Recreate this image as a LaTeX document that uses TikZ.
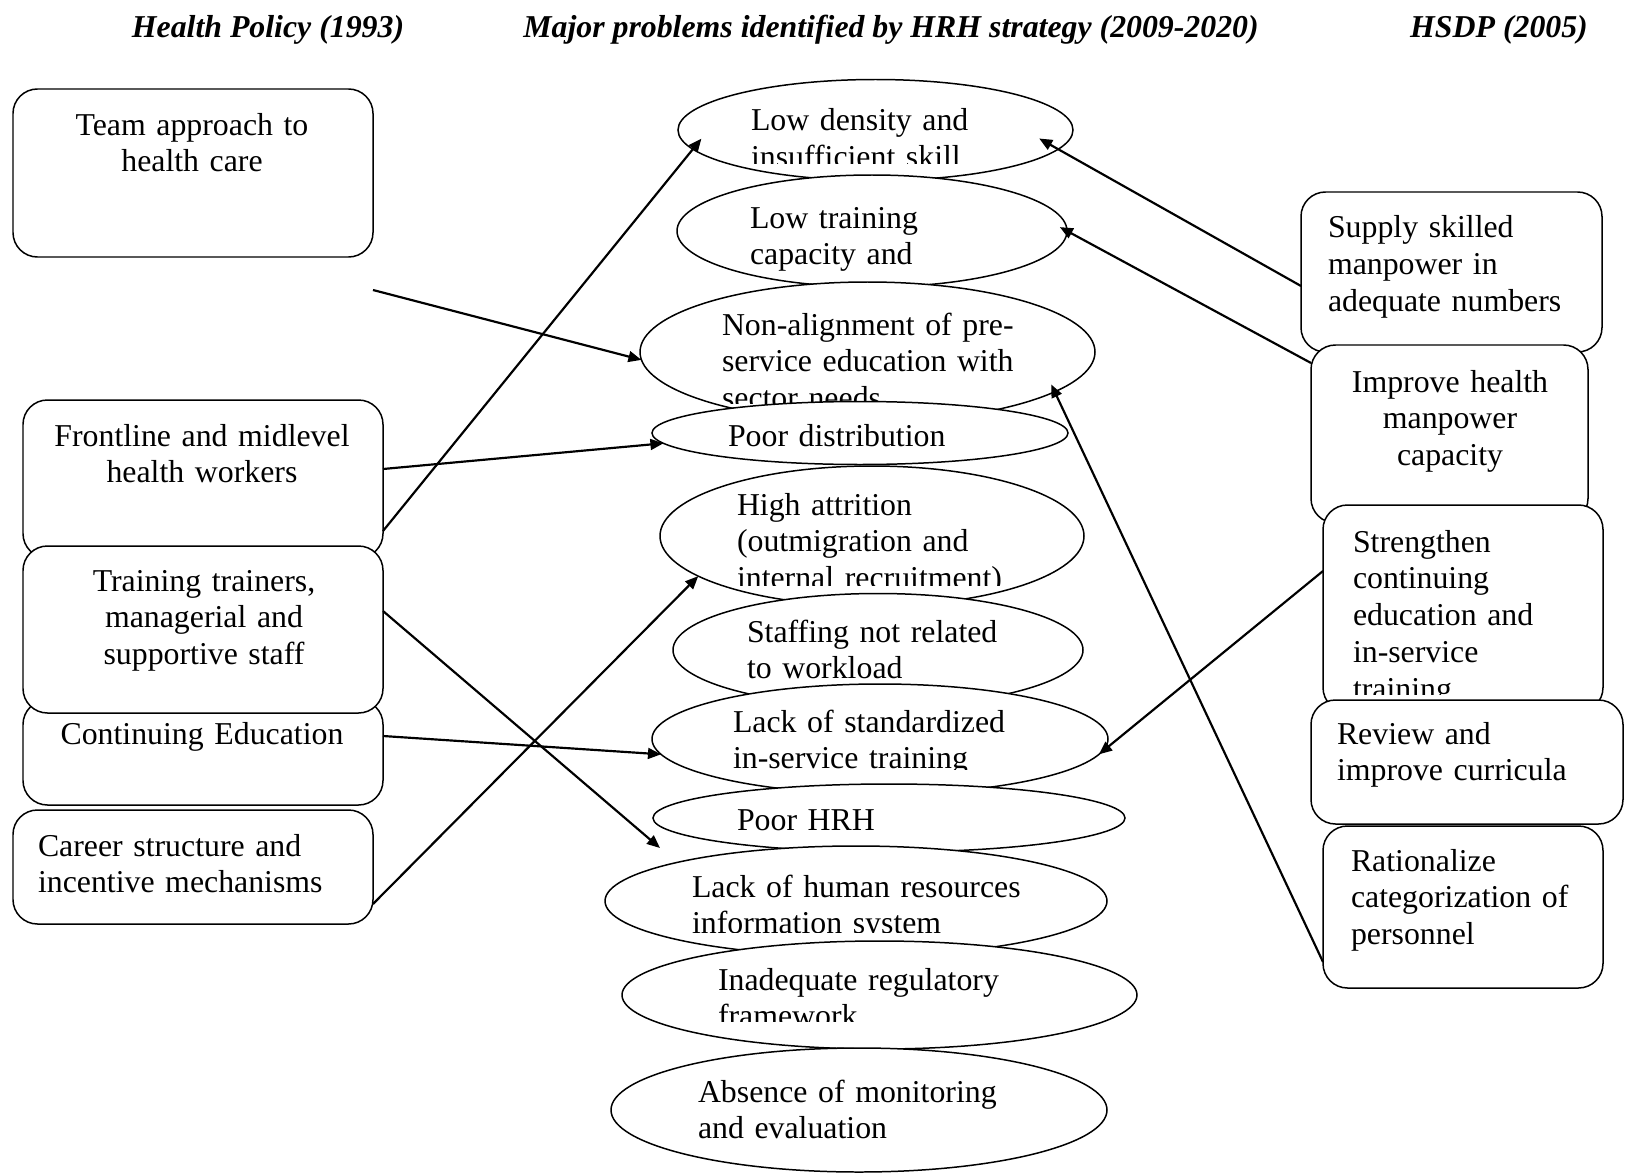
\documentclass[tikz,border=0pt]{standalone}
\usepackage{fontspec}
\setmainfont{Liberation Serif}
\usetikzlibrary{shapes.geometric, arrows.meta, calc}

\newcommand{\pxu}{0.3677pt}
% text of a box, cut off at the bottom like the original text boxes
\newcommand{\clippedtext}[5]{%
  \begin{scope}
    \clip (#2-10,#3-40) rectangle (#2+420,#4);
    \node[txt] (#1) at (#2,#3) {#5};
  \end{scope}}

\begin{document}
\begin{tikzpicture}[x=\pxu, y=-\pxu,
  every node/.style={font=\fontsize{11.7}{13.6}\selectfont, inner sep=0pt, outer sep=0pt},
  head/.style={anchor=base, font=\fontsize{11.7}{13.6}\selectfont\bfseries\itshape},
  box/.style={draw, rounded corners=9pt, fill=white, line width=0.55pt},
  prob/.style={draw, ellipse, fill=white, line width=0.55pt},
  txt/.style={anchor=base west, align=left, text width=170pt},
  txtc/.style={anchor=base, align=center, text width=130pt},
  arr/.style={-{Triangle[length=4.8pt,width=4pt]}, line width=0.8pt}]

\useasboundingbox (0,0) rectangle (1625,1175);

% headings
\node[head] (hpol) at (268,38) {Health Policy (1993)};
\node[head] (hrhs) at (891,38) {Major problems identified by HRH strategy (2009-2020)};
\node[head] (hsdp) at (1499,38) {HSDP (2005)};

% Health Policy (1993)
\node[box, minimum width=360*\pxu, minimum height=168*\pxu] (team) at (193,173) {};
\node[txtc] (teamtext) at (192,135) {Team approach to\\health care};
\node[box, minimum width=360*\pxu, minimum height=158*\pxu] (front) at (203,479) {};
\node[txtc] (fronttext) at (202,446) {Frontline and midlevel\\health workers};
\node[box, minimum width=360*\pxu, minimum height=105*\pxu] (cont) at (203,752.5) {};
\node[txtc] (conttext) at (202,744) {Continuing Education};
\node[box, minimum width=360*\pxu, minimum height=167*\pxu] (train) at (203,629.5) {};
\node[txtc] (traintext) at (204,591) {Training trainers,\\managerial and\\supportive staff};
\node[box, minimum width=360*\pxu, minimum height=114*\pxu] (career) at (193,867) {};
\node[txt] (careertext) at (38,856) {Career structure and\\incentive mechanisms};

% problems
\node[prob, minimum width=395*\pxu, minimum height=101*\pxu] (lowdens) at (875.5,130) {};
\clippedtext{lowdenstext}{751}{131}{164}{Low density and\\insufficient skill}
\node[prob, minimum width=390*\pxu, minimum height=112*\pxu] (lowtrain) at (872,231) {};
\clippedtext{lowtraintext}{750}{228}{290}{Low training\\capacity and}
\node[prob, minimum width=455*\pxu, minimum height=140*\pxu] (nonalign) at (867.5,352) {};
\clippedtext{nonaligntext}{722}{335}{403}{Non-alignment of pre-\\service education with\\sector needs}
\node[prob, minimum width=416*\pxu, minimum height=63*\pxu] (pdist) at (860,433) {};
\node[txt] (pdisttext) at (728,446) {Poor distribution};
\node[prob, minimum width=424*\pxu, minimum height=140*\pxu] (attr) at (872,536) {};
\clippedtext{attrtext}{737}{515}{585}{High attrition\\(outmigration and\\internal recruitment)}
\node[prob, minimum width=410*\pxu, minimum height=113*\pxu] (staff) at (878,650) {};
\clippedtext{stafftext}{747}{642}{679}{Staffing not related\\to workload}
\node[prob, minimum width=456*\pxu, minimum height=110*\pxu] (stdtrain) at (880,739) {};
\clippedtext{stdtraintext}{733}{732}{769}{Lack of standardized\\in-service training}
\node[prob, minimum width=472*\pxu, minimum height=68*\pxu] (hrh) at (889,818) {};
\node[txt] (hrhtext) at (737,830) {Poor HRH};
\node[prob, minimum width=502*\pxu, minimum height=110*\pxu] (hris) at (856,901) {};
\clippedtext{hristext}{692}{897}{932}{Lack of human resources\\information system}
\node[prob, minimum width=515*\pxu, minimum height=108*\pxu] (reg) at (879.5,995) {};
\clippedtext{regtext}{718}{990}{1021}{Inadequate regulatory\\framework}
\node[prob, minimum width=496*\pxu, minimum height=124*\pxu] (mande) at (859,1110) {};
\node[txt] (mandetext) at (698,1102) {Absence of monitoring\\and evaluation};

% HSDP (2005)
\node[box, minimum width=301*\pxu, minimum height=160*\pxu] (supply) at (1451.5,272) {};
\node[txt] (supplytext) at (1328,238) {Supply skilled\\manpower in\\adequate numbers};
\node[box, minimum width=277*\pxu, minimum height=178*\pxu] (improve) at (1449.5,434) {};
\node[txtc] (improvetext) at (1450,392) {Improve health\\manpower\\capacity};
\node[box, minimum width=280*\pxu, minimum height=207*\pxu] (strength) at (1463,608.5) {};
\clippedtext{strengthtext}{1353}{552}{694}{Strengthen\\continuing\\education and\\in-service\\training}
\node[box, minimum width=312*\pxu, minimum height=124*\pxu] (review) at (1467,762) {};
\node[txt] (reviewtext) at (1337,744) {Review and\\improve curricula};
\node[box, minimum width=280*\pxu, minimum height=162*\pxu] (ration) at (1463,907) {};
\node[txt] (rationtext) at (1351,871) {Rationalize\\categorization of\\personnel};

% links
\coordinate (teamfree) at (373,290);
\coordinate (hristip) at (660,848);
\draw[arr] (teamfree) -- (nonalign.182);
\draw[arr] ($(front.east)+(0,-10)$) -- (pdist.183);
\draw[arr, shorten >=-5pt] ($(front.east)+(0,52)$) -- (lowdens.186);
\draw[arr] ($(train.east)+(0,-18.5)$) -- (hristip);
\draw[arr] ($(cont.east)+(0,-16.5)$) -- (stdtrain.184);
\draw[arr] ($(career.east)+(0,37)$) -- (attr.193);
\draw[arr, shorten >=-8pt] ($(supply.west)+(0,14)$) -- (lowdens.354);
\draw[arr, shorten >=-3pt] ($(improve.west)+(0,-71)$) -- (lowtrain.0);
\draw[arr] ($(strength.west)+(0,-37.5)$) -- (stdtrain.356);
\draw[arr, shorten >=-3pt] ($(ration.west)+(0,55)$) -- (nonalign.348);

\end{tikzpicture}
\end{document}
